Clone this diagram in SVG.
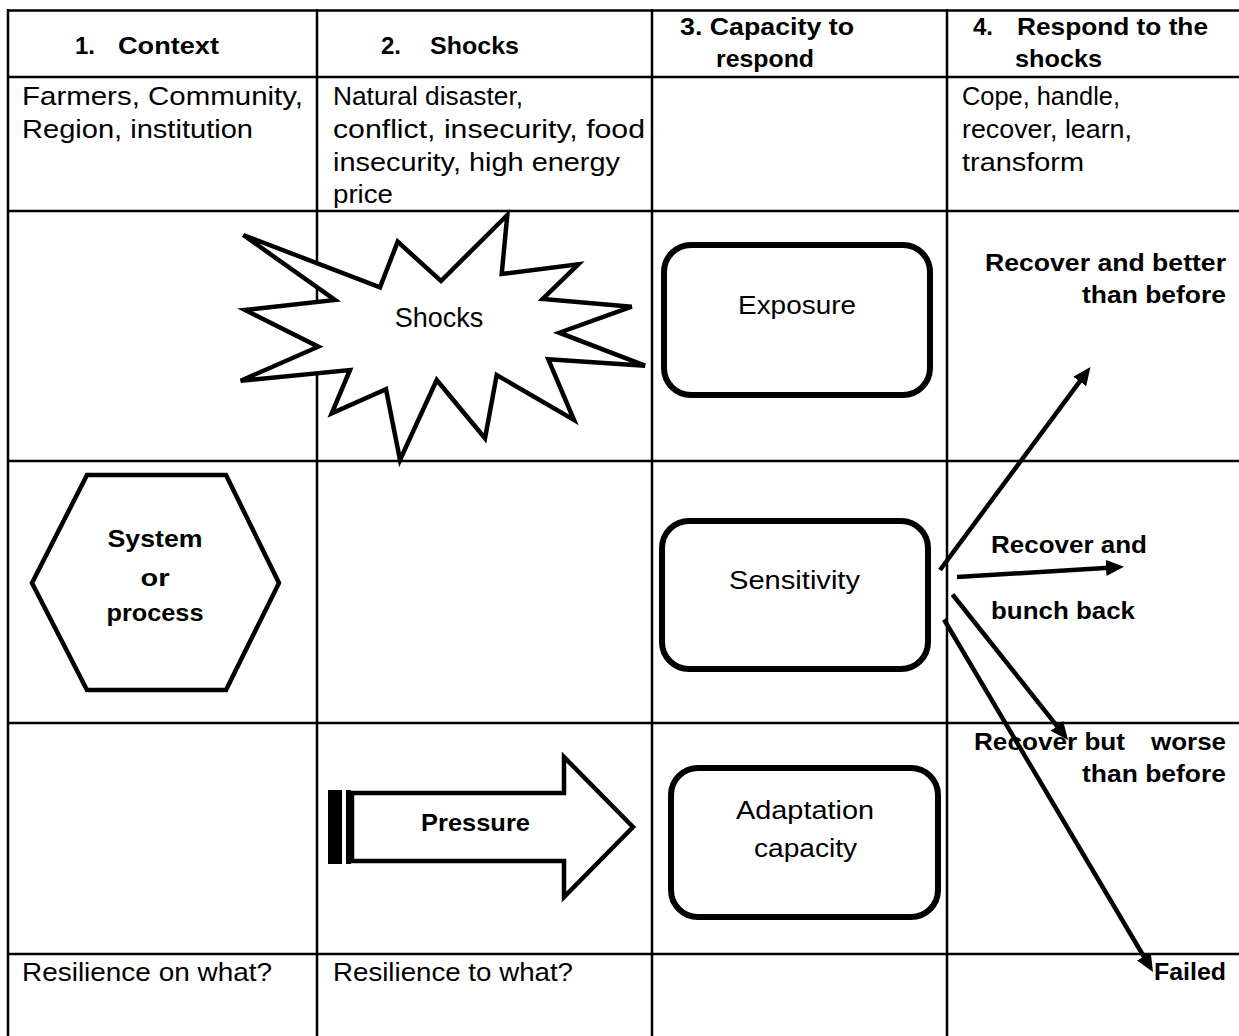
<svg xmlns="http://www.w3.org/2000/svg" width="1239" height="1036" viewBox="0 0 1239 1036">
<defs>
<style>
.grid{stroke:#000;stroke-width:2.5;fill:none}
.t{font-family:"Liberation Sans",Arial,sans-serif;fill:#000}
.r{font-size:25.5px}
.b{font-size:24px;font-weight:bold}
.shape{fill:#fff;stroke:#000;stroke-width:4.5;stroke-linejoin:miter}
.box{fill:#fff;stroke:#000;stroke-width:6}
.conn{stroke:#000;stroke-width:4.5;fill:none}
</style>
<marker id="ah" markerUnits="userSpaceOnUse" markerWidth="18" markerHeight="16" viewBox="0 0 18 16" refX="7" refY="8" orient="auto">
<path d="M0,0 L18,8 L0,16 z" fill="#000"/>
</marker>
</defs>
<rect width="1239" height="1036" fill="#fff"/>
<g id="table" class="grid">
<line x1="8" y1="10.5" x2="1239" y2="10.5"/>
<line x1="8" y1="77" x2="1239" y2="77"/>
<line x1="8" y1="211" x2="1239" y2="211"/>
<line x1="8" y1="461" x2="1239" y2="461"/>
<line x1="8" y1="723" x2="1239" y2="723"/>
<line x1="8" y1="954" x2="1239" y2="954"/>
<line x1="8" y1="9" x2="8" y2="1036"/>
<line x1="317" y1="9" x2="317" y2="1036"/>
<line x1="652" y1="9" x2="652" y2="1036"/>
<line x1="947" y1="9" x2="947" y2="1036"/>
</g>
<g id="headers" class="t b">
<text x="75" y="54">1.</text>
<text x="118" y="54" textLength="101" lengthAdjust="spacingAndGlyphs">Context</text>
<text x="381" y="54">2.</text>
<text x="430" y="54" textLength="89" lengthAdjust="spacingAndGlyphs">Shocks</text>
<text x="680" y="35" textLength="174" lengthAdjust="spacingAndGlyphs">3. Capacity to</text>
<text x="716" y="67" textLength="98" lengthAdjust="spacingAndGlyphs">respond</text>
<text x="973" y="35">4.</text>
<text x="1017" y="35" textLength="191" lengthAdjust="spacingAndGlyphs">Respond to the</text>
<text x="1015" y="67" textLength="87" lengthAdjust="spacingAndGlyphs">shocks</text>
</g>
<g id="descriptions" class="t r">
<text x="22" y="105" textLength="281" lengthAdjust="spacingAndGlyphs">Farmers, Community,</text>
<text x="22" y="138" textLength="231" lengthAdjust="spacingAndGlyphs">Region, institution</text>
<text x="333" y="105" textLength="190" lengthAdjust="spacingAndGlyphs">Natural disaster,</text>
<text x="333" y="138" textLength="312" lengthAdjust="spacingAndGlyphs">conflict, insecurity, food</text>
<text x="333" y="171" textLength="287" lengthAdjust="spacingAndGlyphs">insecurity, high energy</text>
<text x="333" y="203" textLength="60" lengthAdjust="spacingAndGlyphs">price</text>
<text x="962" y="105" textLength="158" lengthAdjust="spacingAndGlyphs">Cope, handle,</text>
<text x="962" y="138" textLength="170" lengthAdjust="spacingAndGlyphs">recover, learn,</text>
<text x="962" y="171" textLength="122" lengthAdjust="spacingAndGlyphs">transform</text>
<text x="22" y="981" textLength="250" lengthAdjust="spacingAndGlyphs">Resilience on what?</text>
<text x="333" y="981" textLength="240" lengthAdjust="spacingAndGlyphs">Resilience to what?</text>
</g>
<g id="shocks-node">
<polygon class="shape" points="243.3,235 380,287.3 397.7,241.7 441,281 507.3,215 501.7,274 578.3,264.3 542.7,299 631.7,306.7 559.3,332.7 645,365.7 548.3,359.3 574,420 496.7,375 485,438.3 436.7,380 400,460 386,389.3 331.7,413.3 350,370 240.7,380.7 318.3,346.7 245,310 335,300"/>
<text class="t" x="439" y="326.5" font-size="27" text-anchor="middle">Shocks</text>
</g>
<g id="system-node">
<polygon class="shape" points="87,475 226,475 279,583 226,690 87,690 32,583"/>
<text class="t b" x="155" y="547" text-anchor="middle" textLength="95" lengthAdjust="spacingAndGlyphs">System</text>
<text class="t b" x="155" y="586" text-anchor="middle" textLength="29" lengthAdjust="spacingAndGlyphs">or</text>
<text class="t b" x="155" y="621" text-anchor="middle" textLength="97" lengthAdjust="spacingAndGlyphs">process</text>
</g>
<g id="pressure-node">
<rect x="328" y="790" width="14" height="74" fill="#000"/>
<rect x="346" y="790" width="5" height="74" fill="#000"/>
<path class="shape" stroke-width="5" d="M352,793 L564,793 L564,757 L633,827 L564,897 L564,861 L352,861 Z"/>
<text class="t b" x="421" y="831" textLength="109" lengthAdjust="spacingAndGlyphs">Pressure</text>
</g>
<g id="exposure-node">
<rect class="box" x="664" y="245" width="266" height="150" rx="27"/>
<text class="t" x="738" y="314" font-size="26" textLength="118" lengthAdjust="spacingAndGlyphs">Exposure</text>
</g>
<g id="sensitivity-node">
<rect class="box" x="662" y="521" width="266" height="148" rx="27"/>
<text class="t" x="729" y="589" font-size="26" textLength="131" lengthAdjust="spacingAndGlyphs">Sensitivity</text>
</g>
<g id="adaptation-node">
<rect class="box" x="671" y="768" width="267" height="149" rx="27"/>
<text class="t" x="736" y="819" font-size="26" textLength="138" lengthAdjust="spacingAndGlyphs">Adaptation</text>
<text class="t" x="754" y="857" font-size="26" textLength="103" lengthAdjust="spacingAndGlyphs">capacity</text>
</g>
<g id="outcomes" class="t b">
<text x="1226" y="271" text-anchor="end" textLength="241" lengthAdjust="spacingAndGlyphs">Recover and better</text>
<text x="1226" y="303" text-anchor="end" textLength="144" lengthAdjust="spacingAndGlyphs">than before</text>
<text x="991" y="553" textLength="156" lengthAdjust="spacingAndGlyphs">Recover and</text>
<text x="991" y="619" textLength="144" lengthAdjust="spacingAndGlyphs">bunch back</text>
<text x="974" y="750" textLength="151" lengthAdjust="spacingAndGlyphs">Recover but</text>
<text x="1226" y="750" text-anchor="end" textLength="75" lengthAdjust="spacingAndGlyphs">worse</text>
<text x="1226" y="782" text-anchor="end" textLength="144" lengthAdjust="spacingAndGlyphs">than before</text>
<text x="1226" y="980" text-anchor="end" textLength="72" lengthAdjust="spacingAndGlyphs">Failed</text>
</g>
<g id="connectors" class="conn">
<path d="M940,570 L1083.9,375.8" marker-end="url(#ah)"/>
<path d="M957,577 L1113,567.5" marker-end="url(#ah)"/>
<path d="M952.5,594.5 L1061.2,731.4" marker-end="url(#ah)"/>
<path d="M944,619.5 L1147.4,962.5" marker-end="url(#ah)"/>
</g>
</svg>
